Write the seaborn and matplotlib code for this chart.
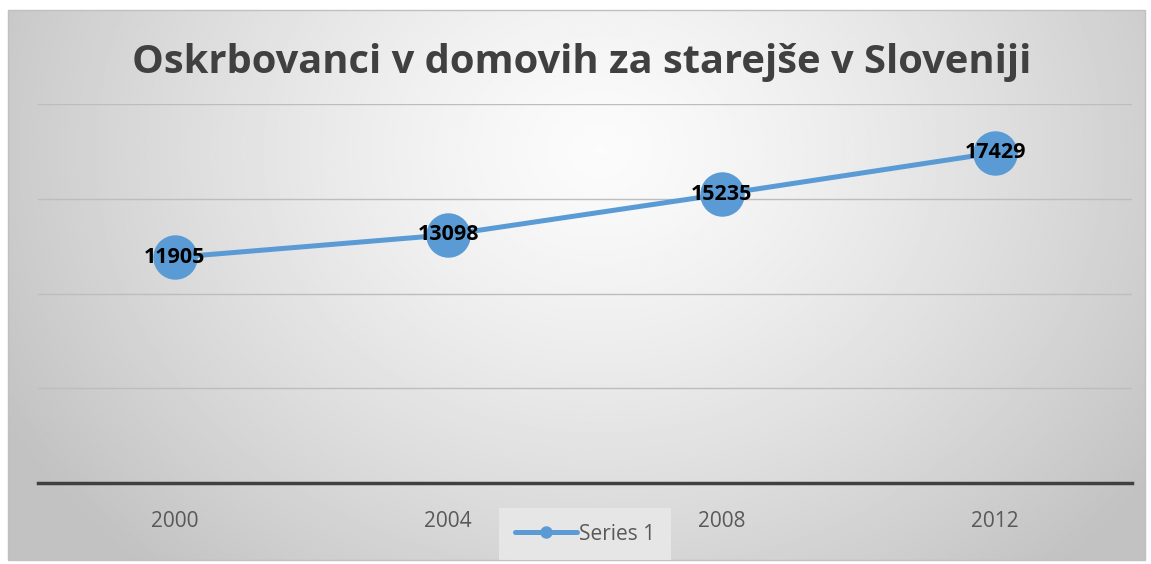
import numpy as np
import pandas as pd
import seaborn as sns
import matplotlib.pyplot as plt
from matplotlib.patches import Rectangle

years = ['2000', '2004', '2008', '2012']
residents = [11905, 13098, 15235, 17429]
series_name = 'Series 1'
title = 'Oskrbovanci v domovih za starejše v Sloveniji'

df = pd.DataFrame({'year': years, 'value': residents})

sns.set_style('white')
plt.rcParams['font.family'] = ['Open Sans', 'DejaVu Sans']

W, H = 1151, 564
fig = plt.figure(figsize=(W / 100, H / 100), dpi=100)

# radial grey gradient behind the chart
bg = fig.add_axes([0, 0, 1, 1], zorder=-10)
x0, x1, y0, y1 = 8, 1145, 10, 560
xx, yy = np.meshgrid(np.linspace(x0, x1, 600), np.linspace(y0, y1, 300))
r = np.sqrt(((xx - 600) / 620) ** 2 + ((yy - 150) / 520) ** 2)
shade = np.clip(0.985 - 0.2 * r ** 1.3, 0.76, 1)
bg.imshow(shade, cmap='gray', vmin=0, vmax=1, extent=[x0, x1, y1, y0],
          aspect='auto', interpolation='bilinear')
bg.add_patch(Rectangle((x0, y0), x1 - x0, y1 - y0, fill=False,
                       edgecolor='#c0c0c0', lw=1))
bg.set_xlim(0, W)
bg.set_ylim(H, 0)
bg.axis('off')

ax = fig.add_axes([38 / W, 1 - 483 / H, (1132 - 38) / W, (483 - 104) / H])
ax.patch.set_alpha(0)

sns.lineplot(data=df, x='year', y='value', ax=ax, color='#5b9bd5', lw=3.6,
             marker='o', markersize=32, markeredgewidth=0, label=series_name,
             sort=False, zorder=3)

for i, v in enumerate(residents):
    ax.text(i, v, str(v), ha='center', va='center', fontsize=15.5,
            fontweight='bold', color='black', zorder=4)

ax.set_xlim(-0.5, 3.5)
ax.set_ylim(0, 20000)
ax.set_yticks([0, 5000, 10000, 15000, 20000])
ax.yaxis.grid(True, color='#bdbdbd', lw=1)
ax.set_yticklabels([])
ax.tick_params(axis='y', length=0)
ax.tick_params(axis='x', length=0, pad=20, labelsize=15, labelcolor='#595959')
ax.set_xlabel('')
ax.set_ylabel('')
for s in ['left', 'right', 'top']:
    ax.spines[s].set_visible(False)
ax.spines['bottom'].set_color('#404040')
ax.spines['bottom'].set_linewidth(2.5)
ax.spines['bottom'].set_zorder(5)

leg = ax.legend(loc='center', bbox_to_anchor=(585 / W, 1 - 534 / H),
                bbox_transform=fig.transFigure, frameon=True, fontsize=15,
                handlelength=3.0, markerscale=0.28, borderpad=0.75,
                handletextpad=0.1)
leg.get_frame().set_facecolor('#e8e8e8')
leg.get_frame().set_edgecolor('none')
leg.get_frame().set_alpha(0.9)
leg.get_frame().set_boxstyle('square', pad=0)
for t in leg.get_texts():
    t.set_color('#595959')

fig.text(582 / W, 1 - 62 / H, title, ha='center', va='center', fontsize=28.7,
         fontweight='bold', color='#404040')

fig.savefig('out.png', dpi=100)
